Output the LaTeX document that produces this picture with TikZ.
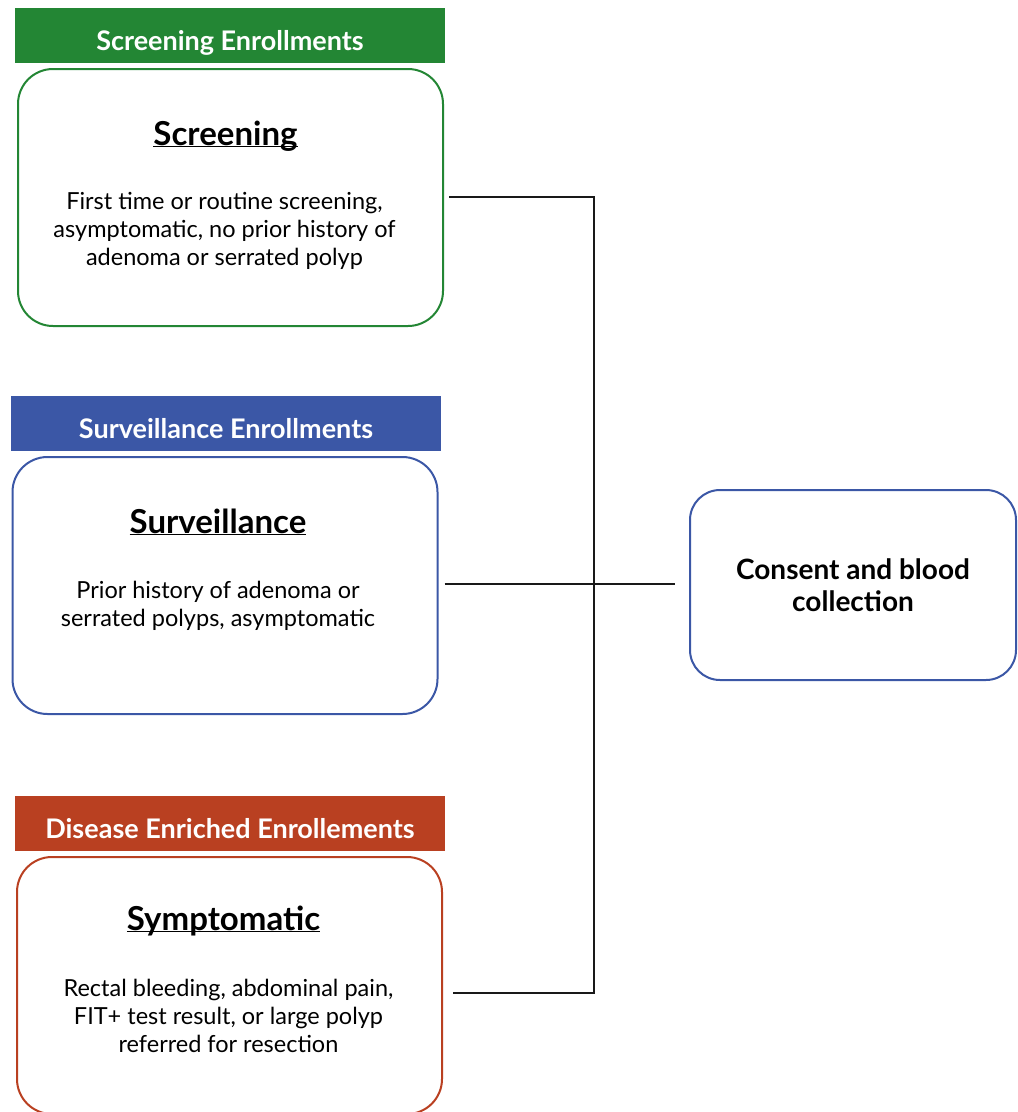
\documentclass[tikz,border=0pt]{standalone}
\usepackage{fontspec}
\setmainfont{Lato}
\newcommand{\boxtitle}[1]{\underline{\smash{#1}}}
\definecolor{scrgreen}{RGB}{35,134,52}
\definecolor{surblue}{RGB}{59,87,166}
\definecolor{symred}{RGB}{185,64,33}
\begin{document}
\begin{tikzpicture}[x=1pt,y=-1pt,
	header/.style={fill=#1,text=white,inner sep=0pt,minimum width=430pt,minimum height=55pt,text height=29pt,text depth=0pt,font=\fontsize{27}{30}\selectfont\bfseries},
	group/.style={draw=#1,line width=2pt,rounded corners=35pt,minimum width=425pt,minimum height=257pt,inner sep=0pt},
	title/.style={inner sep=0pt,font=\fontsize{33}{38}\selectfont\bfseries},
	body/.style={inner sep=0pt,align=center,anchor=north,font=\fontsize{23.5}{28}\selectfont},
	link/.style={line width=2pt,black!90}]
	\useasboundingbox (0,0) rectangle (1018,1112);
	\clip (0,0) rectangle (1018,1112);
	% enrollment groups
	\node[header=scrgreen](hscr) at (230,35.5){Screening Enrollments};
	\node[group=scrgreen](scr) at (230.5,197.5){};
	\node[title](tscr) at ([xshift=-5pt,yshift=-78pt]scr.north){\boxtitle{Screening}};
	\node[body](bscr) at ([xshift=-6pt,yshift=-124pt]scr.north){First time or routine screening,\\asymptomatic, no prior history of\\adenoma or serrated polyp};
	\node[header=surblue](hsur) at (226,423.5){Surveillance Enrollments};
	\node[group=surblue](sur) at (225,585.5){};
	\node[title](tsur) at ([xshift=-7pt,yshift=-78pt]sur.north){\boxtitle{Surveillance}};
	\node[body](bsur) at ([xshift=-7pt,yshift=-125pt]sur.north){Prior history of adenoma or\\serrated polyps, asymptomatic};
	\node[header=symred](hsym) at (230,823.5){Disease Enriched Enrollements};
	\node[group=symred](sym) at (229.5,985.5){};
	\node[title](tsym) at ([xshift=-6pt,yshift=-75pt]sym.north){\boxtitle{Symptomatic}};
	\node[body](bsym) at ([xshift=-1pt,yshift=-123pt]sym.north){Rectal bleeding, abdominal pain,\\FIT+ test result, or large polyp\\referred for resection};
	% consent
	\node[draw=surblue,line width=2pt,rounded corners=30pt,minimum width=326pt,minimum height=190pt,align=center,font=\fontsize{28}{32}\selectfont\bfseries](cons) at (853,585){Consent and blood\\collection};
	% connectors
	\coordinate (jtop) at (594,197);
	\coordinate (jbot) at (594,993);
	\draw[link] ([xshift=5pt,yshift=0.5pt]scr.east) -- (jtop) -- (jbot) -- ([xshift=10pt,yshift=-7.5pt]sym.east);
	\draw[link] ([xshift=6pt,yshift=1.5pt]sur.east) -- ([xshift=-14pt,yshift=1pt]cons.west);
\end{tikzpicture}
\end{document}
